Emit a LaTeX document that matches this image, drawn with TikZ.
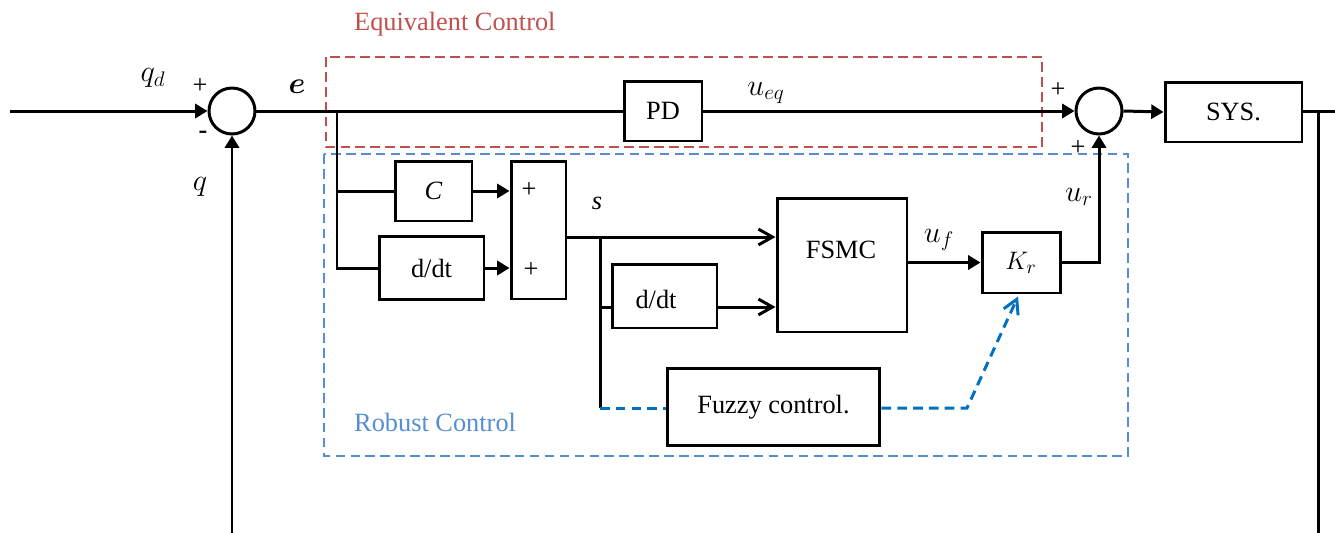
\documentclass[tikz,border=0pt]{standalone}
\usepackage{amsmath,amssymb}
\usepackage{fontspec}
\setmainfont{Liberation Serif}
\usepackage{xcolor}
\usepackage{tikz}
\usetikzlibrary{arrows.meta, positioning, calc}
\definecolor{eqred}{RGB}{192,80,77}
\definecolor{robblue}{RGB}{85,142,213}
\definecolor{fzblue}{RGB}{0,112,192}

\begin{document}
\begin{tikzpicture}[
        x=0.02cm, y=-0.02cm,
        >={Triangle[length=7pt, width=8pt]},
        every node/.style={font=\fontsize{15}{18}\selectfont},
        blk/.style={draw, line width=1.7pt, minimum height=1.2cm, minimum width=1.56cm, inner sep=0pt},
        sumc/.style={draw, circle, line width=1.7pt, minimum size=0.92cm, inner sep=0pt},
        sig/.style={line width=1.7pt},
        mlbl/.style={font=\fontsize{17}{20}\selectfont},
        openarr/.style={line width=1.7pt, -{Straight Barb[length=8pt, width=9pt]}},
        grp/.style={line width=1.1pt, dash pattern=on 5.5pt off 3pt},
        fzline/.style={fzblue, line width=1.7pt, dash pattern=on 5.5pt off 3.5pt},
    ]

    \useasboundingbox (0,0) rectangle (1335,532);
    \clip (0,0) rectangle (1335,532);

    % ── Dashed groups ──
    \draw[grp, eqred] (326,57) rectangle (1042,147);
    \node[eqred, anchor=west] (eqlbl) at (348,24) {Equivalent Control};
    \draw[grp, robblue] (324,154) rectangle (1128,456);
    \node[robblue, anchor=west] (roblbl) at (348,422) {Robust Control};

    % ── Main line ──
    \node[sumc] (sum1) at (232,111) {};
    \node[blk] (pd) at (663,111) {PD};
    \node[sumc] (sum2) at (1099,111) {};
    \node[blk, minimum width=2.74cm] (sys) at (1233.5,112) {SYS.};

    % ── Sliding surface ──
    \node[blk, minimum width=1.54cm] (cblk) at (433.5,191) {\textit{C}};
    \node[blk, minimum width=2.1cm, minimum height=1.26cm] (dd1) at (431.5,268) {d/dt};
    \node[blk, minimum width=1.1cm, minimum height=2.76cm] (sumbox) at (538.5,230) {};
    \node (plus1) at (529,190) {+};
    \node (plus2) at (531,270) {+};

    % ── Robust part ──
    \node[blk, minimum width=2.1cm, minimum height=1.28cm] (dd2) at (664.5,296) {};
    \node (dd2lbl) at (656,299) {d/dt};
    \node[blk, minimum width=2.6cm, minimum height=2.68cm] (fsmc) at (842,265) {};
    \node (fsmclbl) at (841,250) {FSMC};
    \node[blk, minimum width=1.56cm, minimum height=1.22cm] (kr) at (1021,262.5) {$K_r$};
    \node[blk, minimum width=4.26cm, minimum height=1.54cm] (fuzzy) at (773.5,407) {Fuzzy control.};

    % ── Signal labels ──
    \node[mlbl] (qd) at (153,78) {$q_d$};
    \node (p1) at (200,86) {+};
    \node (m1) at (203,135) {\textbf{-}};
    \node[mlbl] (q) at (200,187) {$q$};
    \node[mlbl] (e) at (297,87) {$\boldsymbol{e}$};
    \node (s) at (597,203) {\textit{s}};
    \node[mlbl] (ueq) at (766,93) {$u_{eq}$};
    \node[mlbl] (uf) at (939,240) {$u_f$};
    \node[mlbl] (ur) at (1079,197) {$u_r$};
    \node (p2) at (1058,90) {+};
    \node (p3) at (1078,148) {+};

    % ── Coordinates ──
    \coordinate (qin) at (10,111);
    \coordinate (ebr) at (337,111);
    \coordinate (sbr) at (600,237);
    \coordinate (dd2in) at (600,307);
    \coordinate (fzin) at (600,408);
    \coordinate (fzbend) at (967,408);
    \coordinate (yout) at (1318,111);
    \coordinate (yend) at (1350,111);

    % ── Arrows: main loop ──
    \draw[sig, ->] (qin) -- (sum1.west);
    \draw[sig] (sum1.east) -- (pd.west);
    \draw[sig, ->] (pd.east) -- (sum2.west);
    \draw[sig, ->] (sum2.east) -- (sys.west);
    \draw[sig, ->] (sys.east |- yout) -- (yend);
    \draw[sig, ->] (yout) -- ++(0,480) -| (sum1.south);

    % ── Arrows: sliding surface ──
    \draw[sig] (ebr) |- (dd1.west);
    \draw[sig] (ebr |- cblk.west) -- (cblk.west);
    \draw[sig, ->] (cblk.east) -- (cblk.east -| sumbox.west);
    \draw[sig, ->] (dd1.east) -- (dd1.east -| sumbox.west);

    % ── Arrows: robust part ──
    \draw[openarr] (sumbox.east |- sbr) -- (fsmc.west |- sbr);
    \draw[sig] (sbr) -- (fzin);
    \draw[sig] (dd2in) -- (dd2.west |- dd2in);
    \draw[openarr] (dd2.east |- dd2in) -- (fsmc.west |- dd2in);
    \draw[sig, ->] (fsmc.east |- kr.west) -- (kr.west);
    \draw[sig, ->] (kr.east) -| (sum2.south);

    % ── Fuzzy gain tuning ──
    \draw[fzline] (fzin) -- (fuzzy.west |- fzin);
    \draw[fzline, -{Straight Barb[length=8pt, width=9pt]}] (fuzzy.east |- fzbend) -- (fzbend) -- ($(kr.south)+(-3,2)$);

\end{tikzpicture}
\end{document}
